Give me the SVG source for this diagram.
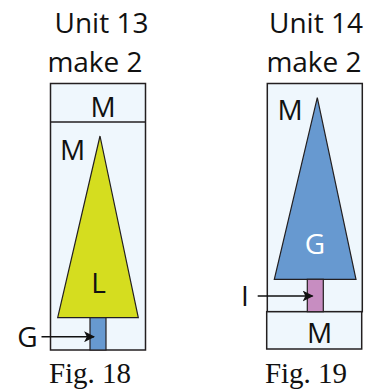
<svg xmlns="http://www.w3.org/2000/svg" width="369" height="390" viewBox="0 0 369 390">
<style>
.box{fill:#eff7fd;stroke:#231f20;stroke-width:1.5}
.tri{stroke:#231f20;stroke-width:1.2}
.t{font-family:"Open Sans","Noto Sans",sans-serif;fill:#111;text-anchor:middle}
.h{font-size:28px}
.l{font-size:28px}
.fig{font-family:"Liberation Serif","Times New Roman",serif;font-size:29px;fill:#111;text-anchor:middle}
.arr{stroke:#111;stroke-width:1.5;fill:none;marker-end:url(#ah)}
</style>
<defs>
<marker id="ah" viewBox="0 0 10 10" refX="9" refY="5" markerWidth="11" markerHeight="11" markerUnits="userSpaceOnUse" orient="auto">
<path d="M0,0 L10,5 L0,10 L2.5,5 Z" fill="#111"/>
</marker>
</defs>
<g id="fig18">
<text class="t h" x="101.5" y="33">Unit 13</text>
<text class="t h" x="95" y="72">make 2</text>
<g id="box18">
<rect class="box" x="50.5" y="83.5" width="95" height="266.5"/>
<line x1="50.5" y1="122" x2="145.5" y2="122" stroke="#231f20" stroke-width="1.5"/>
</g>
<g id="cone18">
<polygon class="tri" fill="#d5dd1f" points="100,136 138.3,317.7 57.7,317.7"/>
<rect class="tri" fill="#6799d0" x="90" y="317.7" width="16" height="32.3"/>
</g>
<text class="t l" x="103" y="116.5">M</text>
<text class="t l" x="72.5" y="160">M</text>
<text class="t l" x="98.5" y="292.5">L</text>
<text class="t l" x="27.5" y="346.5">G</text>
<text class="fig" x="90" y="383">Fig. 18</text>
</g>
<g id="fig19">
<text class="t h" x="316" y="33">Unit 14</text>
<text class="t h" x="314" y="72">make 2</text>
<g id="box19">
<rect class="box" x="267.3" y="83.5" width="95" height="228.2"/>
<rect class="box" x="266.7" y="311.7" width="95" height="37.3"/>
</g>
<g id="cone19">
<polygon class="tri" fill="#6799d0" points="317.3,97.7 356,279.3 274.3,279.3"/>
<rect class="tri" fill="#c78dc1" x="307.3" y="279.3" width="16" height="32.4"/>
</g>
<text class="t l" x="290" y="120">M</text>
<text class="t l" x="315" y="254" style="fill:#fff">G</text>
<text class="t l" x="245" y="305.5">I</text>
<text class="t l" x="319.5" y="343">M</text>
<text class="fig" x="306" y="382.5">Fig. 19</text>
</g>
<g id="connectors">
<line class="arr" x1="41.5" y1="336.7" x2="94" y2="336.7"/>
<line class="arr" x1="257.7" y1="296" x2="312.5" y2="296"/>
</g>
</svg>
